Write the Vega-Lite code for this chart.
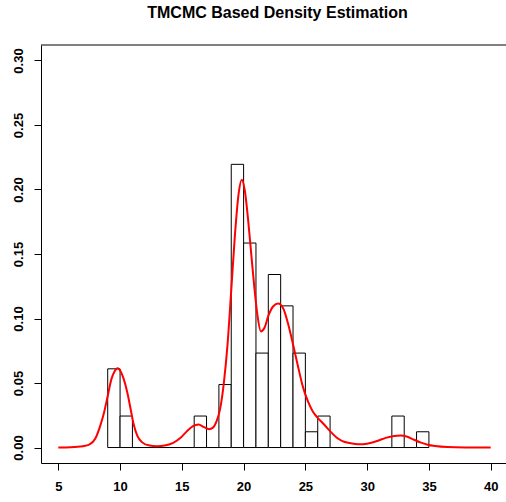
{
  "$schema": "https://vega.github.io/schema/vega-lite/v6.json",
  "autosize": "none",
  "width": 465,
  "height": 418,
  "padding": {"left": 41, "top": 45, "right": 0, "bottom": 39},
  "background": "white",
  "view": {"stroke": null},
  "title": {
    "text": "TMCMC Based Density Estimation",
    "font": "Liberation Sans",
    "fontSize": 16,
    "fontWeight": "bold",
    "color": "black",
    "anchor": "middle",
    "dx": 4,
    "offset": 23.5
  },
  "config": {
    "font": "Liberation Sans",
    "axis": {
      "grid": false,
      "domainColor": "black",
      "tickColor": "black",
      "labelColor": "black",
      "labelFont": "Liberation Sans",
      "labelFontSize": 13,
      "labelFontWeight": "bold",
      "tickSize": 7,
      "domainWidth": 1,
      "tickWidth": 1,
      "title": null
    }
  },
  "datasets": {
    "hist": [
      {"bin_start": 9, "bin_end": 10, "density": 0.061},
      {"bin_start": 10, "bin_end": 11, "density": 0.0244},
      {"bin_start": 11, "bin_end": 12, "density": 0},
      {"bin_start": 12, "bin_end": 13, "density": 0},
      {"bin_start": 13, "bin_end": 14, "density": 0},
      {"bin_start": 14, "bin_end": 15, "density": 0},
      {"bin_start": 15, "bin_end": 16, "density": 0},
      {"bin_start": 16, "bin_end": 17, "density": 0.0244},
      {"bin_start": 17, "bin_end": 18, "density": 0},
      {"bin_start": 18, "bin_end": 19, "density": 0.0488},
      {"bin_start": 19, "bin_end": 20, "density": 0.2195},
      {"bin_start": 20, "bin_end": 21, "density": 0.1585},
      {"bin_start": 21, "bin_end": 22, "density": 0.0732},
      {"bin_start": 22, "bin_end": 23, "density": 0.1341},
      {"bin_start": 23, "bin_end": 24, "density": 0.1098},
      {"bin_start": 24, "bin_end": 25, "density": 0.0732},
      {"bin_start": 25, "bin_end": 26, "density": 0.0122},
      {"bin_start": 26, "bin_end": 27, "density": 0.0244},
      {"bin_start": 27, "bin_end": 28, "density": 0},
      {"bin_start": 28, "bin_end": 29, "density": 0},
      {"bin_start": 29, "bin_end": 30, "density": 0},
      {"bin_start": 30, "bin_end": 31, "density": 0},
      {"bin_start": 31, "bin_end": 32, "density": 0},
      {"bin_start": 32, "bin_end": 33, "density": 0.0244},
      {"bin_start": 33, "bin_end": 34, "density": 0},
      {"bin_start": 34, "bin_end": 35, "density": 0.0122}
    ],
    "curve": [
      {"x": 5, "d": 0.0},
      {"x": 6, "d": 0.0002},
      {"x": 7, "d": 0.001},
      {"x": 7.5, "d": 0.0022},
      {"x": 8, "d": 0.007},
      {"x": 8.4, "d": 0.017},
      {"x": 8.7, "d": 0.027},
      {"x": 9.0, "d": 0.040},
      {"x": 9.3, "d": 0.053},
      {"x": 9.55, "d": 0.059},
      {"x": 9.8, "d": 0.0615},
      {"x": 10.05, "d": 0.059},
      {"x": 10.3, "d": 0.053},
      {"x": 10.6, "d": 0.042},
      {"x": 10.85, "d": 0.030},
      {"x": 11.1, "d": 0.018},
      {"x": 11.4, "d": 0.009},
      {"x": 11.8, "d": 0.004},
      {"x": 12.3, "d": 0.0017},
      {"x": 13.0, "d": 0.001},
      {"x": 13.7, "d": 0.0017},
      {"x": 14.3, "d": 0.0036},
      {"x": 14.9, "d": 0.0075},
      {"x": 15.4, "d": 0.0125},
      {"x": 15.9, "d": 0.0165},
      {"x": 16.35, "d": 0.0178},
      {"x": 16.8, "d": 0.0158},
      {"x": 17.2, "d": 0.0142},
      {"x": 17.5, "d": 0.0152},
      {"x": 17.8, "d": 0.020},
      {"x": 18.1, "d": 0.030},
      {"x": 18.4, "d": 0.050},
      {"x": 18.7, "d": 0.080},
      {"x": 19.0, "d": 0.122},
      {"x": 19.3, "d": 0.165},
      {"x": 19.6, "d": 0.197},
      {"x": 19.85, "d": 0.2075},
      {"x": 20.1, "d": 0.199},
      {"x": 20.35, "d": 0.178},
      {"x": 20.6, "d": 0.152},
      {"x": 20.85, "d": 0.126},
      {"x": 21.1, "d": 0.104},
      {"x": 21.4, "d": 0.090},
      {"x": 21.7, "d": 0.093},
      {"x": 22.0, "d": 0.102},
      {"x": 22.4, "d": 0.1095},
      {"x": 22.8, "d": 0.1116},
      {"x": 23.2, "d": 0.108},
      {"x": 23.6, "d": 0.096},
      {"x": 24.0, "d": 0.080},
      {"x": 24.4, "d": 0.063},
      {"x": 24.8, "d": 0.047},
      {"x": 25.2, "d": 0.036},
      {"x": 25.6, "d": 0.028},
      {"x": 26.0, "d": 0.023},
      {"x": 26.5, "d": 0.018},
      {"x": 27.0, "d": 0.0127},
      {"x": 27.5, "d": 0.008},
      {"x": 28.0, "d": 0.005},
      {"x": 28.6, "d": 0.0035},
      {"x": 29.3, "d": 0.0025},
      {"x": 30.0, "d": 0.003},
      {"x": 30.8, "d": 0.005},
      {"x": 31.5, "d": 0.0075},
      {"x": 32.2, "d": 0.009},
      {"x": 32.7, "d": 0.0093},
      {"x": 33.2, "d": 0.0085},
      {"x": 33.8, "d": 0.006},
      {"x": 34.3, "d": 0.004},
      {"x": 34.9, "d": 0.0022},
      {"x": 35.5, "d": 0.0012},
      {"x": 36.5, "d": 0.0004},
      {"x": 38, "d": 0.0001},
      {"x": 40, "d": 0.0}
    ],
    "frame": [
      {"x0": 3.6, "x1": 41.24, "ytop": 0.312}
    ]
  },
  "layer": [
    {
      "data": {"name": "hist"},
      "mark": {"type": "rect", "fill": "white", "stroke": "black", "strokeWidth": 1},
      "encoding": {
        "x": {
          "field": "bin_start", "type": "quantitative",
          "scale": {"domain": [3.6, 41.24], "nice": false, "zero": false},
          "axis": {"values": [5, 10, 15, 20, 25, 30, 35, 40], "labelPadding": 10, "labelFlush": false, "labelOverlap": false}
        },
        "x2": {"field": "bin_end"},
        "y": {
          "field": "density", "type": "quantitative",
          "scale": {"domain": [-0.012, 0.312], "nice": false, "zero": false},
          "axis": {"values": [0, 0.05, 0.1, 0.15, 0.2, 0.25, 0.3], "format": ".2f", "labelAngle": -90, "labelAlign": "center", "labelBaseline": "bottom", "labelPadding": 9, "labelFlush": false, "labelOverlap": false}
        },
        "y2": {"datum": 0}
      }
    },
    {
      "data": {"name": "curve"},
      "mark": {"type": "line", "color": "#ff0000", "strokeWidth": 2, "interpolate": "monotone"},
      "encoding": {
        "x": {"field": "x", "type": "quantitative"},
        "y": {"field": "d", "type": "quantitative"}
      }
    },
    {
      "data": {"name": "frame"},
      "mark": {"type": "rule", "color": "black", "strokeWidth": 1},
      "encoding": {
        "x": {"field": "x0", "type": "quantitative"},
        "x2": {"field": "x1"},
        "y": {"field": "ytop", "type": "quantitative"}
      }
    }
  ]
}
